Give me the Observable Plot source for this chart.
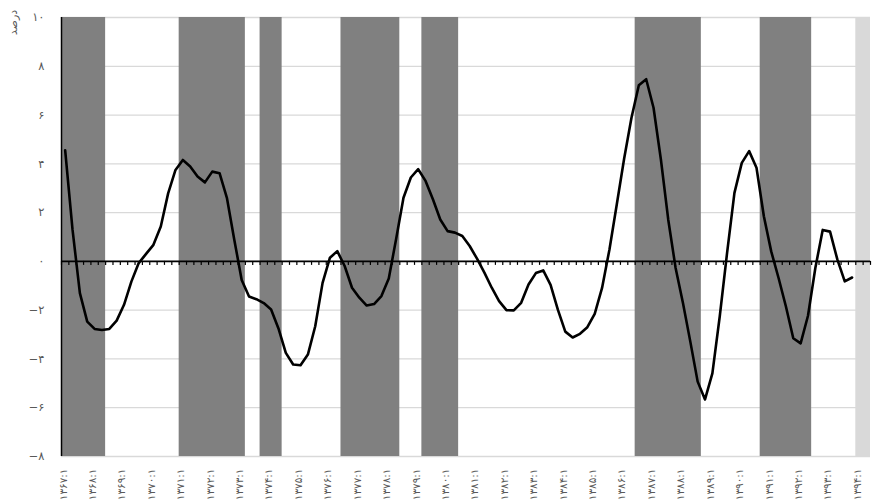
<!DOCTYPE html>
<html><head><meta charset="utf-8">
<script src="https://cdn.jsdelivr.net/npm/d3@7"></script>
<script src="https://cdn.jsdelivr.net/npm/@observablehq/plot@0.6"></script>
<style>
body{margin:0;background:#fff;}
#chart{width:872px;height:501px;overflow:hidden;}
</style></head><body><div id="chart"></div>
<script>
// ---- data ----
const years = d3.range(1367, 1395);            // ۱۳۶۷ … ۱۳۹۴
const quartersPerYear = [1, 2, 3, 4];
const quarterCount = 110;                        // ۱۳۶۷:۱ … ۱۳۹۴:۲
const yTicks = [-8, -6, -4, -2, 0, 2, 4, 6, 8, 10];
const yLabel = "درصد";

// output gap (%) per quarter, starting at ۱۳۶۷:۱
const gapValues = [
  4.55, 1.30, -1.30, -2.47, -2.77, -2.81, -2.77, -2.43, -1.78, -0.83,
  -0.07, 0.31, 0.68, 1.43, 2.79, 3.75, 4.16, 3.89, 3.48, 3.24,
  3.68, 3.61, 2.59, 0.88, -0.76, -1.44, -1.55, -1.71, -1.97, -2.75,
  -3.75, -4.23, -4.26, -3.82, -2.66, -0.88, 0.15, 0.42, -0.19, -1.08,
  -1.49, -1.81, -1.75, -1.42, -0.70, 0.92, 2.61, 3.44, 3.78, 3.30,
  2.55, 1.72, 1.24, 1.18, 1.04, 0.63, 0.11, -0.46, -1.08, -1.63,
  -2.00, -2.01, -1.70, -0.95, -0.48, -0.37, -0.96, -1.99, -2.88, -3.12,
  -2.97, -2.70, -2.15, -1.09, 0.48, 2.33, 4.21, 5.89, 7.22, 7.47,
  6.30, 4.18, 1.71, -0.27, -1.71, -3.29, -4.93, -5.66, -4.59, -2.26,
  0.35, 2.81, 4.04, 4.52, 3.84, 1.85, 0.41, -0.68, -1.85, -3.15,
  -3.36, -2.23, -0.27, 1.29, 1.22, 0.07, -0.82, -0.66
];

// shaded periods (first and last quarter)
const recessionPeriods = [
  ["۱۳۶۷:۱", "۱۳۶۸:۲"],
  ["۱۳۷۱:۱", "۱۳۷۳:۱"],
  ["۱۳۷۳:۴", "۱۳۷۴:۲"],
  ["۱۳۷۶:۳", "۱۳۷۸:۲"],
  ["۱۳۷۹:۲", "۱۳۸۰:۲"],
  ["۱۳۸۶:۳", "۱۳۸۸:۳"],
  ["۱۳۹۰:۴", "۱۳۹۲:۲"]
];
const forecastPeriods = [["۱۳۹۴:۱", "۱۳۹۴:۲"]];

// ---- helpers ----
const faDigits = "۰۱۲۳۴۵۶۷۸۹";
const toFa = s => String(s).replace(/[0-9]/g, d => faDigits[+d]);
const quarterLabels = years.flatMap(y => quartersPerYear.map(q => toFa(`${y}:${q}`))).slice(0, quarterCount);
const idx = l => quarterLabels.indexOf(l);
const series = gapValues.map((v, i) => ({i, v}));
const toSpan = ([a, b]) => ({x1: idx(a) - 0.5, x2: idx(b) + 0.5});
const recessionSpans = recessionPeriods.map(toSpan);
const forecastSpans = forecastPeriods.map(toSpan);
const boundaries = d3.range(0, quarterCount + 1).map(k => k - 0.5);
const yearTicks = d3.range(0, quarterCount, 4);
const fmtY = d => d < 0 ? "\u2212" + toFa(-d) : toFa(d);

const chart = Plot.plot({
  width: 872,
  height: 501,
  marginLeft: 61,
  marginRight: 2,
  marginTop: 17,
  marginBottom: 45,
  x: {domain: [-0.5, quarterCount - 0.5], label: null},
  y: {domain: [yTicks[0], yTicks[yTicks.length - 1]], label: null},
  style: {fontFamily: "'DejaVu Sans', sans-serif", fontSize: "11px", color: "#595959", background: "#fff"},
  marks: [
    Plot.ruleY(yTicks, {stroke: "#d9d9d9", strokeWidth: 1.3}),
    Plot.rect(recessionSpans, {x1: "x1", x2: "x2", fill: "#808080"}),
    Plot.rect(forecastSpans, {x1: "x1", x2: "x2", fill: "#d9d9d9"}),
    Plot.ruleX([boundaries[0]], {stroke: "#000", strokeWidth: 1.5}),
    Plot.ruleY([0], {stroke: "#000", strokeWidth: 1.6}),
    Plot.ruleX(boundaries, {x: d => d, y1: 0, y2: 0, insetBottom: -4, stroke: "#000", strokeWidth: 1.2}),
    Plot.line(series, {x: "i", y: "v", stroke: "#000", strokeWidth: 2.6, strokeLinejoin: "round"}),
    Plot.axisY(yTicks, {label: null, tickSize: 0, tickPadding: 17, tickFormat: fmtY, fill: "#595959", fontSize: 11.5}),
    Plot.axisX(yearTicks, {label: null, tickSize: 0, tickRotate: -90, tickPadding: 12, tickFormat: i => quarterLabels[i], fill: "#595959", fontSize: 10.5, dx: -2}),
    Plot.text([yLabel], {frameAnchor: "top-left", dx: -48, dy: 5, rotate: -90, textAnchor: "middle", lineAnchor: "middle", fill: "#595959", fontSize: 11, text: d => d})
  ]
});
document.getElementById("chart").appendChild(chart);
</script>
</body></html>
